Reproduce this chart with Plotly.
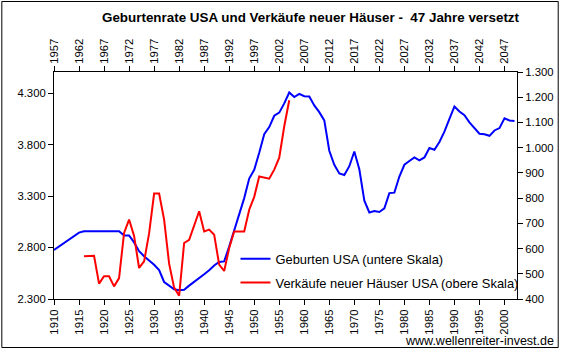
import plotly.graph_objects as go

# Births USA (thousands), bottom axis years
birth_years = list(range(1910, 2003))
births = [2777, 2810, 2840, 2875, 2905, 2945, 2958, 2958, 2958, 2958,
          2958, 2958, 2958, 2958, 2917, 2917, 2850, 2765, 2715, 2675,
          2633, 2580, 2465, 2430, 2395, 2385, 2390, 2430, 2465, 2504,
          2540, 2580, 2625, 2659, 2665, 2810, 2960, 3118, 3280, 3470,
          3555, 3720, 3900, 3970, 4080, 4110, 4200, 4306, 4262, 4293,
          4270, 4268, 4180, 4115, 4035, 3740, 3604, 3520, 3505, 3590,
          3733, 3560, 3255, 3141, 3155, 3145, 3180, 3329, 3333, 3490,
          3604, 3640, 3675, 3646, 3675, 3766, 3750, 3825, 3925, 4050,
          4170, 4121, 4085, 4015, 3960, 3905, 3900, 3885, 3937, 3960,
          4055, 4034, 4030]

# New home sales USA (thousands), top axis years
sales_years = list(range(1963, 2005))
sales = [569, 569, 571, 461, 490, 490, 450, 483, 662, 715,
         650, 523, 549, 660, 818, 818, 715, 540, 445, 413,
         622, 635, 688, 748, 668, 675, 655, 536, 511, 602,
         668, 668, 668, 754, 805, 886, 880, 877, 913, 960,
         1085, 1188]

bottom_ticks = list(range(1910, 2001, 5))
top_ticks = list(range(1957, 2048, 5))
left_ticks = list(range(2300, 4301, 500))
right_ticks = list(range(400, 1301, 100))

title_text = "Geburtenrate USA und Verkäufe neuer Häuser -  47 Jahre versetzt"
name_births = "Geburten USA (untere Skala)"
name_sales = "Verkäufe neuer Häuser USA (obere Skala)"
source_text = "www.wellenreiter-invest.de"

FONT = "Liberation Sans, Arial, sans-serif"

fig = go.Figure()
fig.add_trace(go.Scatter(x=birth_years, y=births, mode="lines", name=name_births,
                         line=dict(color="#0000FF", width=2), legendgroup="a",
                         xaxis="x", yaxis="y"))
fig.add_trace(go.Scatter(x=sales_years, y=sales, mode="lines", name=name_sales,
                         line=dict(color="#FF0000", width=2), legendgroup="b",
                         xaxis="x2", yaxis="y2"))

axis_common = dict(showgrid=False, zeroline=False, showline=True, linecolor="black",
                   linewidth=1, ticks="outside", ticklen=5, tickcolor="black",
                   tickfont=dict(family=FONT, size=11.3, color="black"))

fig.update_layout(
    width=566, height=350,
    margin=dict(l=54, r=46, t=72, b=51),
    paper_bgcolor="white", plot_bgcolor="white",
    separators=",.",
    showlegend=True,
    legend=dict(x=0.392, y=0.243, xanchor="left", yanchor="top",
                bgcolor="rgba(255,255,255,0)", borderwidth=0,
                font=dict(family=FONT, size=12.9, color="black"),
                traceorder="grouped", tracegroupgap=4),
    xaxis=dict(range=[1910, 2002.5], tickmode="array", tickvals=bottom_ticks,
               tickangle=-90, anchor="y", **axis_common),
    xaxis2=dict(range=[1957, 2049.5], tickmode="array", tickvals=top_ticks,
                tickangle=-90, overlaying="x", side="top", anchor="y", **axis_common),
    yaxis=dict(range=[2300, 4505], tickmode="array", tickvals=left_ticks,
               tickformat=",d", anchor="x", **axis_common),
    yaxis2=dict(range=[400, 1300], tickmode="array", tickvals=right_ticks,
                tickformat=",d", overlaying="y", side="right", anchor="x", **axis_common),
    annotations=[
        dict(text="<b>" + title_text + "</b>", xref="paper", yref="paper",
             x=0.555, y=1.238, xanchor="center", yanchor="middle", showarrow=False,
             font=dict(family=FONT, size=13.4, color="black")),
        dict(text=source_text, xref="paper", yref="paper",
             x=1.084, y=-0.185, xanchor="right", yanchor="middle", showarrow=False,
             font=dict(family=FONT, size=12.5, color="black")),
    ],
    shapes=[dict(type="rect", xref="paper", yref="paper",
                 x0=-0.1127, x1=1.089, y0=-0.2137, y1=1.3106,
                 line=dict(color="black", width=1), fillcolor="rgba(0,0,0,0)")],
)

fig.write_html("out.html")
